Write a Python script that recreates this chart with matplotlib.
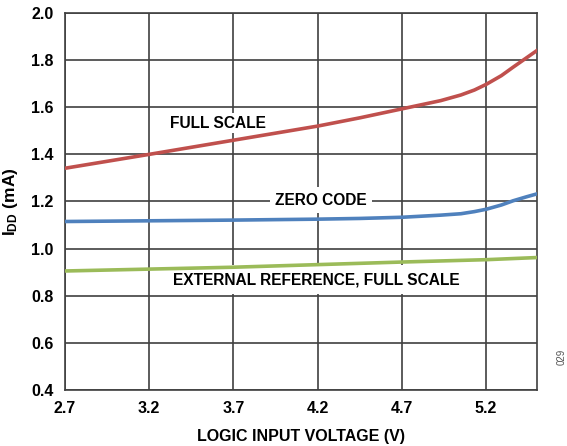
import matplotlib.pyplot as plt

plt.rcParams['font.family'] = 'Liberation Sans'
plt.rcParams['font.weight'] = 'bold'
plt.rcParams['mathtext.fontset'] = 'custom'
plt.rcParams['mathtext.rm'] = 'Liberation Sans:bold'

# logic input voltage (V)
voltage = [2.7, 3.2, 3.7, 4.2, 4.45, 4.7, 4.93, 5.05, 5.13, 5.2, 5.29, 5.36, 5.44, 5.5]
# IDD (mA)
full_scale = [1.341, 1.400, 1.460, 1.520, 1.555, 1.593, 1.628, 1.652, 1.673, 1.697,
              1.734, 1.770, 1.810, 1.840]
zero_code = [1.115, 1.118, 1.121, 1.125, 1.128, 1.133, 1.142, 1.148, 1.157, 1.167,
             1.185, 1.203, 1.220, 1.232]
ext_ref_v = [2.7, 3.2, 3.7, 4.2, 4.7, 5.2, 5.5]
ext_ref = [0.905, 0.913, 0.921, 0.932, 0.943, 0.953, 0.962]

xticks = [2.7, 3.2, 3.7, 4.2, 4.7, 5.2]
yticks = [0.4, 0.6, 0.8, 1.0, 1.2, 1.4, 1.6, 1.8, 2.0]

fig = plt.figure(figsize=(5.67, 4.46), dpi=100)
ax = fig.add_axes([0.1146, 0.1256, 0.832, 0.8453])
ax.set_axisbelow(True)

ax.plot(voltage, full_scale, color='#C0504D', lw=2.6, zorder=3)
ax.plot(voltage, zero_code, color='#4F81BD', lw=2.6, zorder=3)
ax.plot(ext_ref_v, ext_ref, color='#9BBB59', lw=2.6, zorder=3)

ax.set_xlim(2.7, 5.5)
ax.set_ylim(0.4, 2.0)
ax.set_xticks(xticks)
ax.set_yticks(yticks)
ax.set_xticklabels([f'{t:.1f}' for t in xticks])
ax.set_yticklabels([f'{t:.1f}' for t in yticks])
ax.tick_params(length=0, labelsize=11.5, pad=8)
ax.grid(True, color='#404040', lw=1.2)
for s in ax.spines.values():
    s.set_color('#404040')
    s.set_linewidth(1.2)

ax.text(3.61, 1.533, 'FULL SCALE', ha='center', va='center', fontsize=11.2,
        bbox=dict(facecolor='white', edgecolor='none', pad=2), zorder=2)
ax.text(4.22, 1.206, 'ZERO CODE', ha='center', va='center', fontsize=11.2,
        bbox=dict(facecolor='white', edgecolor='none', pad=4), zorder=2)
ax.text(4.19, 0.867, 'EXTERNAL REFERENCE, FULL SCALE', ha='center', va='center',
        fontsize=11.2, bbox=dict(facecolor='white', edgecolor='none', pad=5), zorder=2)

ax.set_xlabel('LOGIC INPUT VOLTAGE (V)', fontsize=11.5, fontweight='bold', labelpad=9)
ax.set_ylabel(r'$\mathrm{I_{DD}}$ (mA)', fontsize=12.5, fontweight='bold', labelpad=8)

fig.text(0.991, 0.2, '029', rotation=90, fontsize=7, color='#555555',
         fontweight='normal', ha='center', va='center')

fig.savefig('out.png', dpi=100)
